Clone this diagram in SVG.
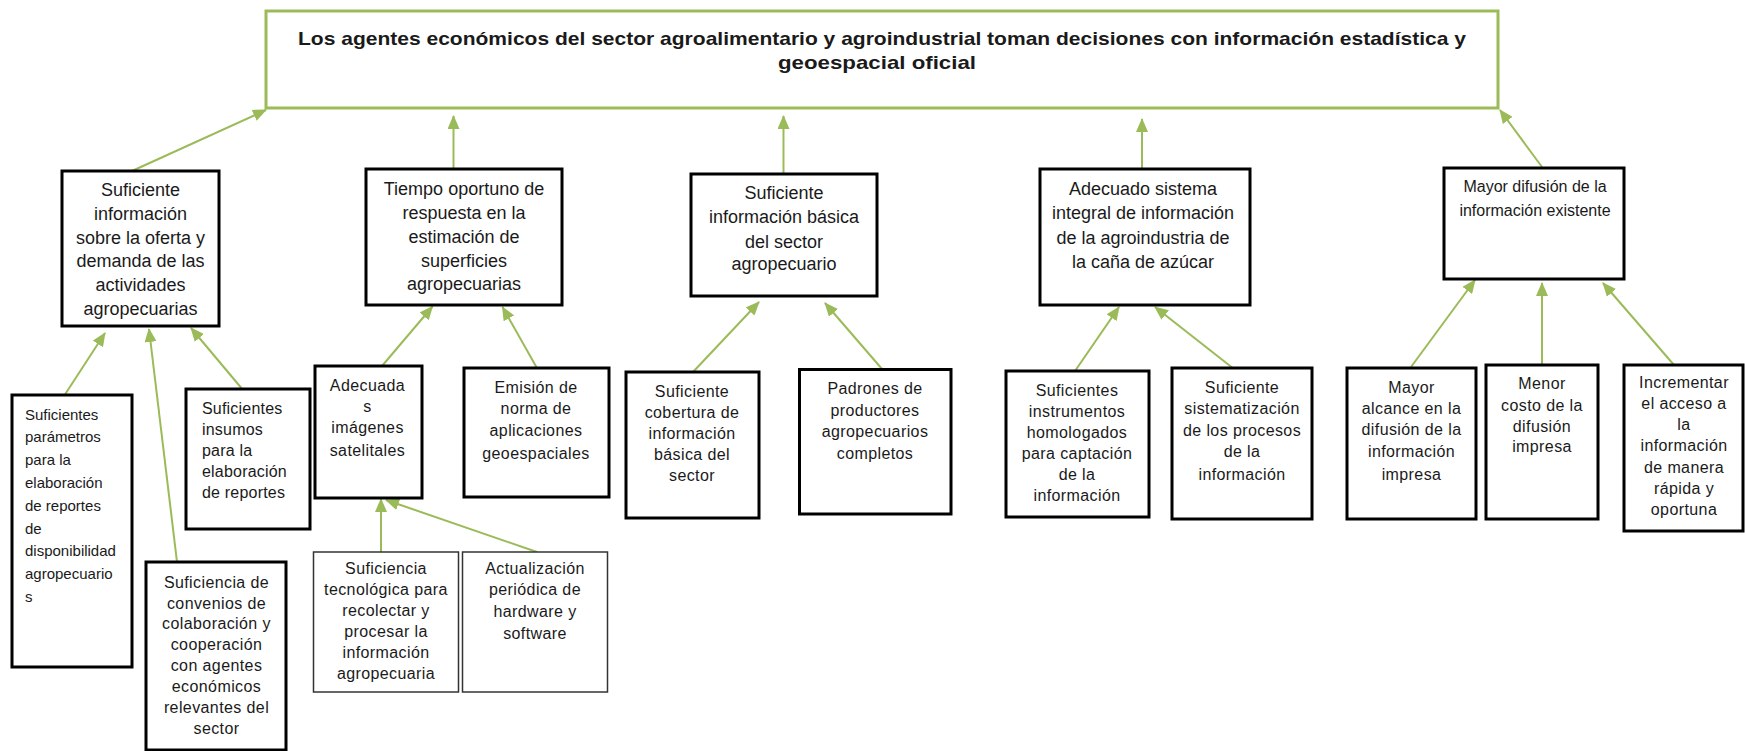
<svg xmlns="http://www.w3.org/2000/svg" width="1745" height="751" viewBox="0 0 1745 751">
<style>
.bg{fill:#ffffff}
.top{fill:#ffffff;stroke:#9BBB59;stroke-width:3}
.box{fill:#ffffff;stroke:#000000;stroke-width:3}
.thin{fill:#ffffff;stroke:#333333;stroke-width:1.5}
text{font-family:"Liberation Sans",Arial,sans-serif;fill:#1a1a1a}
.title{font-size:19px;font-weight:bold;text-anchor:middle}
.l1{font-size:18px;text-anchor:middle}
.l1s{font-size:16px;text-anchor:middle}
.l2{font-size:16px;text-anchor:middle;letter-spacing:0.4px}
.l2l{font-size:16px;letter-spacing:0.2px}
.l2a{font-size:15px}
.conn line{stroke:#9BBB59;stroke-width:2;marker-end:url(#ah)}
</style>
<defs>
<marker id="ah" markerUnits="userSpaceOnUse" markerWidth="14" markerHeight="12" refX="13" refY="6" orient="auto">
<path d="M0,0 L14,6 L0,12 z" fill="#9BBB59"/>
</marker>
</defs>
<rect class="bg" x="0" y="0" width="1745" height="751"/>

<g id="connectors" class="conn">
<line x1="132" y1="171" x2="266" y2="110"/>
<line x1="453.5" y1="169" x2="453.5" y2="116"/>
<line x1="783.5" y1="174" x2="783.5" y2="116"/>
<line x1="1142" y1="169" x2="1142" y2="119"/>
<line x1="1542" y1="167" x2="1500" y2="110"/>
<line x1="64" y1="396" x2="105" y2="333"/>
<line x1="177" y1="562" x2="149" y2="329"/>
<line x1="243" y1="390" x2="191" y2="328"/>
<line x1="382" y1="366" x2="432.5" y2="306.5"/>
<line x1="537.5" y1="369" x2="502.5" y2="307"/>
<line x1="381" y1="552" x2="381" y2="499"/>
<line x1="537" y1="552" x2="386" y2="500"/>
<line x1="693" y1="372" x2="759" y2="302"/>
<line x1="882" y1="369" x2="825" y2="303"/>
<line x1="1075" y1="371" x2="1119" y2="307"/>
<line x1="1234" y1="369" x2="1155" y2="307"/>
<line x1="1411" y1="367" x2="1475" y2="280"/>
<line x1="1542" y1="365" x2="1542" y2="283"/>
<line x1="1674" y1="365" x2="1603" y2="283"/>
</g>

<g id="top">
<rect class="top" x="266" y="11" width="1232" height="97"/>
<text class="title" x="882" y="45" textLength="1168" lengthAdjust="spacingAndGlyphs">Los agentes económicos del sector agroalimentario y agroindustrial toman decisiones con información estadística y</text>
<text class="title" x="877" y="69" textLength="198" lengthAdjust="spacingAndGlyphs">geoespacial oficial</text>
</g>

<g id="nodeA">
<rect class="box" x="62" y="171" width="157" height="155"/>
<text class="l1" x="140.5" y="196">Suficiente</text>
<text class="l1" x="140.5" y="219.8">información</text>
<text class="l1" x="140.5" y="243.6">sobre la oferta y</text>
<text class="l1" x="140.5" y="267.4">demanda de las</text>
<text class="l1" x="140.5" y="291.2">actividades</text>
<text class="l1" x="140.5" y="315">agropecuarias</text>
</g>

<g id="nodeB">
<rect class="box" x="366" y="169" width="196" height="136"/>
<text class="l1" x="464" y="195">Tiempo oportuno de</text>
<text class="l1" x="464" y="218.5">respuesta en la</text>
<text class="l1" x="464" y="242.5">estimación de</text>
<text class="l1" x="464" y="266.5">superficies</text>
<text class="l1" x="464" y="289.5">agropecuarias</text>
</g>

<g id="nodeC">
<rect class="box" x="691" y="174" width="186" height="122"/>
<text class="l1" x="784" y="199">Suficiente</text>
<text class="l1" x="784" y="223">información básica</text>
<text class="l1" x="784" y="247.5">del sector</text>
<text class="l1" x="784" y="270">agropecuario</text>
</g>

<g id="nodeD">
<rect class="box" x="1040" y="169" width="210" height="136"/>
<text class="l1" x="1143" y="194.5">Adecuado sistema</text>
<text class="l1" x="1143" y="219">integral de información</text>
<text class="l1" x="1143" y="243.5">de la agroindustria de</text>
<text class="l1" x="1143" y="268">la caña de azúcar</text>
</g>

<g id="nodeE">
<rect class="box" x="1444" y="168" width="180" height="111"/>
<text class="l1s" x="1535" y="192">Mayor difusión de la</text>
<text class="l1s" x="1535" y="216">información existente</text>
</g>

<g id="nodeA1">
<rect class="box" x="12" y="395" width="120" height="272"/>
<text class="l2a" x="25" y="419.5">Suficientes</text>
<text class="l2a" x="25" y="442.3">parámetros</text>
<text class="l2a" x="25" y="465.1">para la</text>
<text class="l2a" x="25" y="487.9">elaboración</text>
<text class="l2a" x="25" y="510.7">de reportes</text>
<text class="l2a" x="25" y="533.5">de</text>
<text class="l2a" x="25" y="556.3">disponibilidad</text>
<text class="l2a" x="25" y="579.1">agropecuario</text>
<text class="l2a" x="25" y="601.9">s</text>
</g>

<g id="nodeA2">
<rect class="box" x="146" y="562" width="140" height="188"/>
<text class="l2" x="216.5" y="587.5">Suficiencia de</text>
<text class="l2" x="216.5" y="608.5">convenios de</text>
<text class="l2" x="216.5" y="629.4">colaboración y</text>
<text class="l2" x="216.5" y="650.4">cooperación</text>
<text class="l2" x="216.5" y="671.3">con agentes</text>
<text class="l2" x="216.5" y="692.3">económicos</text>
<text class="l2" x="216.5" y="713.2">relevantes del</text>
<text class="l2" x="216.5" y="734.2">sector</text>
</g>

<g id="nodeA3">
<rect class="box" x="186" y="389" width="124" height="140"/>
<text class="l2l" x="202" y="413.5">Suficientes</text>
<text class="l2l" x="202" y="434.7">insumos</text>
<text class="l2l" x="202" y="455.9">para la</text>
<text class="l2l" x="202" y="477.1">elaboración</text>
<text class="l2l" x="202" y="498.3">de reportes</text>
</g>

<g id="nodeB1">
<rect class="box" x="315" y="366" width="107" height="132"/>
<text class="l2" x="367.5" y="391">Adecuada</text>
<text class="l2" x="367.5" y="412">s</text>
<text class="l2" x="367.5" y="433">imágenes</text>
<text class="l2" x="367.5" y="456">satelitales</text>
</g>

<g id="nodeB2">
<rect class="box" x="464" y="368" width="145" height="129"/>
<text class="l2" x="536" y="392.5">Emisión de</text>
<text class="l2" x="536" y="414">norma de</text>
<text class="l2" x="536" y="436">aplicaciones</text>
<text class="l2" x="536" y="459">geoespaciales</text>
</g>

<g id="nodeB1a">
<rect class="thin" x="313.5" y="552" width="145" height="140"/>
<text class="l2" x="386" y="574">Suficiencia</text>
<text class="l2" x="386" y="595">tecnológica para</text>
<text class="l2" x="386" y="616">recolectar y</text>
<text class="l2" x="386" y="637">procesar la</text>
<text class="l2" x="386" y="658">información</text>
<text class="l2" x="386" y="679">agropecuaria</text>
</g>

<g id="nodeB1b">
<rect class="thin" x="462.5" y="552" width="145" height="140"/>
<text class="l2" x="535" y="574">Actualización</text>
<text class="l2" x="535" y="595">periódica de</text>
<text class="l2" x="535" y="616.5">hardware y</text>
<text class="l2" x="535" y="639">software</text>
</g>

<g id="nodeC1">
<rect class="box" x="626" y="372" width="133" height="146"/>
<text class="l2" x="692" y="396.5">Suficiente</text>
<text class="l2" x="692" y="417.7">cobertura de</text>
<text class="l2" x="692" y="438.9">información</text>
<text class="l2" x="692" y="460.1">básica del</text>
<text class="l2" x="692" y="481.3">sector</text>
</g>

<g id="nodeC2">
<rect class="box" x="799.5" y="369.5" width="151.5" height="144.5"/>
<text class="l2" x="875" y="394">Padrones de</text>
<text class="l2" x="875" y="415.5">productores</text>
<text class="l2" x="875" y="437">agropecuarios</text>
<text class="l2" x="875" y="458.5">completos</text>
</g>

<g id="nodeD1">
<rect class="box" x="1006" y="371" width="143" height="146"/>
<text class="l2" x="1077" y="396">Suficientes</text>
<text class="l2" x="1077" y="416.9">instrumentos</text>
<text class="l2" x="1077" y="437.8">homologados</text>
<text class="l2" x="1077" y="458.7">para captación</text>
<text class="l2" x="1077" y="479.6">de la</text>
<text class="l2" x="1077" y="500.5">información</text>
</g>

<g id="nodeD2">
<rect class="box" x="1172" y="368" width="140" height="151"/>
<text class="l2" x="1242" y="392.5">Suficiente</text>
<text class="l2" x="1242" y="414">sistematización</text>
<text class="l2" x="1242" y="435.5">de los procesos</text>
<text class="l2" x="1242" y="457">de la</text>
<text class="l2" x="1242" y="480">información</text>
</g>

<g id="nodeE1">
<rect class="box" x="1347" y="368" width="129" height="151"/>
<text class="l2" x="1411.5" y="393">Mayor</text>
<text class="l2" x="1411.5" y="414">alcance en  la</text>
<text class="l2" x="1411.5" y="435">difusión  de la</text>
<text class="l2" x="1411.5" y="457">información</text>
<text class="l2" x="1411.5" y="480">impresa</text>
</g>

<g id="nodeE2">
<rect class="box" x="1486" y="365" width="112" height="154"/>
<text class="l2" x="1542" y="389">Menor</text>
<text class="l2" x="1542" y="411">costo de la</text>
<text class="l2" x="1542" y="432">difusión</text>
<text class="l2" x="1542" y="452">impresa</text>
</g>

<g id="nodeE3">
<rect class="box" x="1624" y="365" width="119" height="166"/>
<text class="l2" x="1684" y="387.5">Incrementar</text>
<text class="l2" x="1684" y="408.8">el acceso a</text>
<text class="l2" x="1684" y="430.1">la</text>
<text class="l2" x="1684" y="451.4">información</text>
<text class="l2" x="1684" y="472.7">de manera</text>
<text class="l2" x="1684" y="494">rápida y</text>
<text class="l2" x="1684" y="515.3">oportuna</text>
</g>
</svg>
